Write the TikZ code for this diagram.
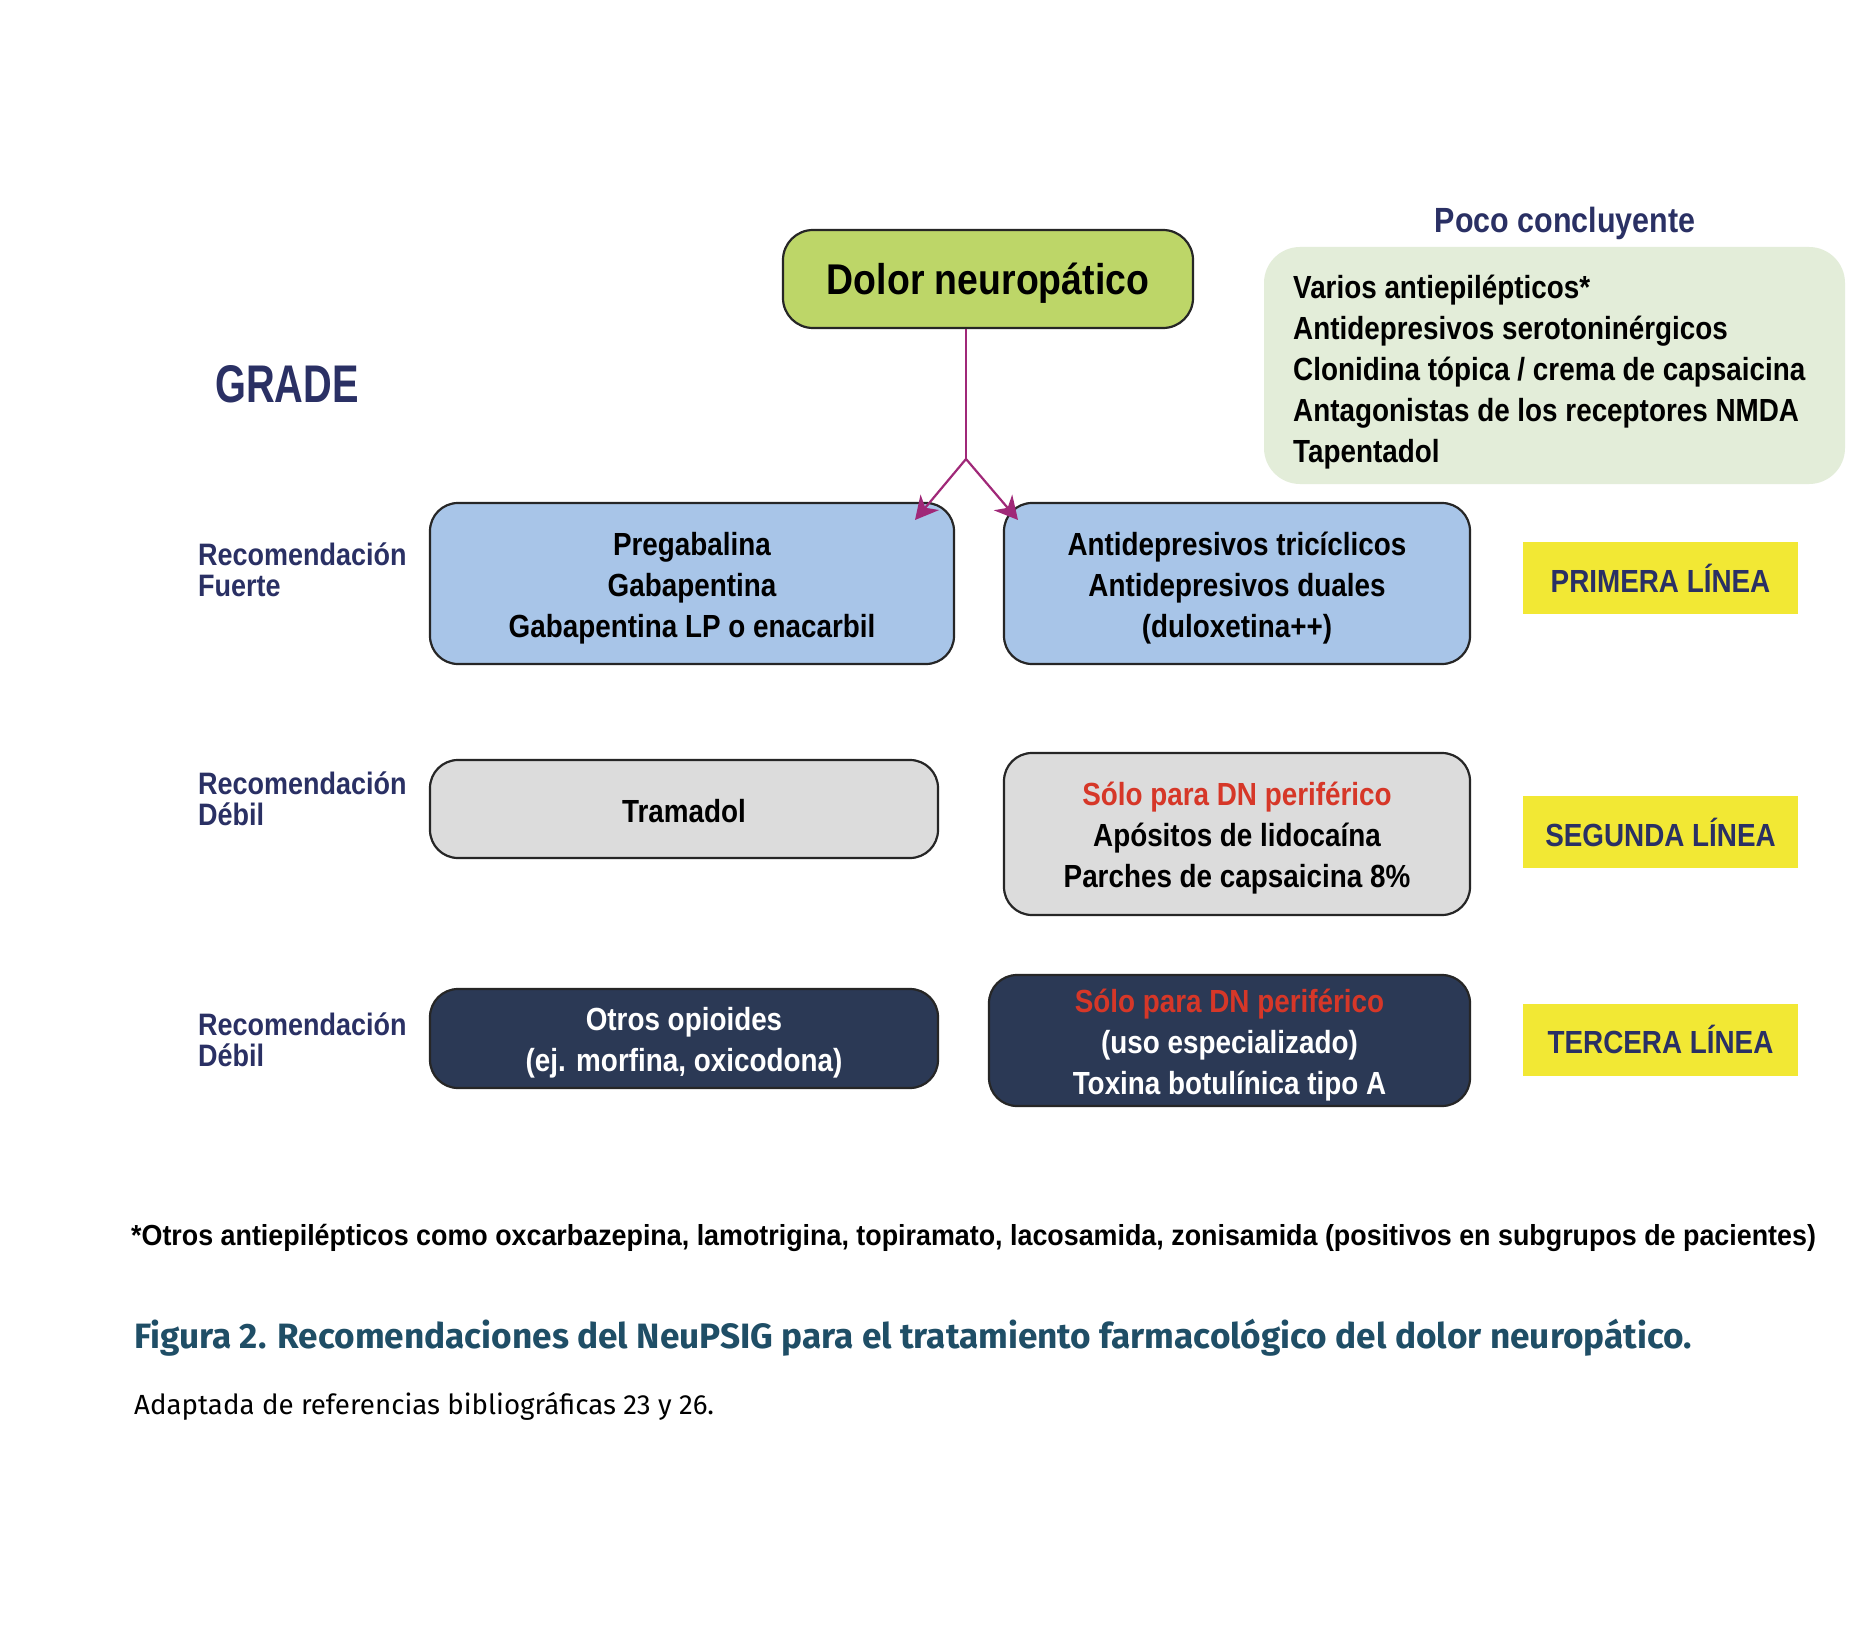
\documentclass[tikz,border=0pt]{standalone}
\usepackage{fontspec}
\usetikzlibrary{arrows.meta}
\newfontfamily\cf[FakeStretch=0.87]{Liberation Sans}
\newfontfamily\gf[FakeStretch=0.75]{Liberation Sans}
\newfontfamily\ff[FakeStretch=0.926]{Liberation Sans}
\newfontfamily\capf{Fira Sans}
\definecolor{navy}{RGB}{42,48,100}
\definecolor{topgreen}{RGB}{189,214,104}
\definecolor{lightgreen}{RGB}{227,237,217}
\definecolor{boxblue}{RGB}{168,197,232}
\definecolor{boxgray}{RGB}{220,220,220}
\definecolor{boxdark}{RGB}{43,57,85}
\definecolor{txtred}{RGB}{214,55,40}
\definecolor{labyellow}{RGB}{242,232,52}
\definecolor{arrowc}{RGB}{160,40,120}
\definecolor{capcol}{RGB}{31,78,102}
\begin{document}
\begin{tikzpicture}[x=1pt,y=-1pt,
  drug/.style={draw=black!85, line width=2.2pt, rounded corners=28pt, inner sep=0pt},
  boxtxt/.style={align=center, inner sep=0pt, font=\cf\bfseries\fontsize{32}{41}\selectfont},
  linelab/.style={fill=labyellow, inner sep=0pt, minimum width=275pt, minimum height=72pt,
    text=navy, font=\cf\bfseries\fontsize{32}{38}\selectfont},
  reclab/.style={anchor=west, align=left, inner sep=0pt, text=navy,
    font=\cf\bfseries\fontsize{31}{31}\selectfont},
  conn/.style={draw=arrowc, line width=2.2pt},
  tip/.style={-{Stealth[length=23pt,width=24pt,inset=7pt]}}
]
\useasboundingbox (0,0) rectangle (1869,1629);
\fill[white] (0,0) rectangle (1869,1629);

% title box
\node[drug, fill=topgreen, minimum width=410pt, minimum height=98pt, rounded corners=30pt] (dolor) at (988,279) {};
\node[boxtxt, font=\cf\bfseries\fontsize{43}{50}\selectfont] (dolorT) at ([yshift=-4pt]dolor.center) {Dolor neuropático};

% GRADE
\node[anchor=west, inner sep=0pt, text=navy, font=\gf\bfseries\fontsize{53}{60}\selectfont] (grade) at (215,384) {GRADE};

% Poco concluyente
\node[inner sep=0pt, text=navy, font=\cf\bfseries\fontsize{35}{40}\selectfont] (poco) at (1565,223) {Poco concluyente};
\node[fill=lightgreen, rounded corners=36pt, inner sep=0pt, minimum width=581pt, minimum height=237pt] (varios) at (1554.5,365.5) {};
\node[anchor=west, align=left, inner sep=0pt, font=\cf\bfseries\fontsize{32}{41}\selectfont] (variosT) at (1293,372)
  {Varios antiepilépticos*\\Antidepresivos serotoninérgicos\\Clonidina tópica / crema de capsaicina\\Antagonistas de los receptores NMDA\\Tapentadol};

% row 1
\node[reclab] (rec1) at (198,570) {Recomendación\\Fuerte};
\node[drug, fill=boxblue, minimum width=524pt, minimum height=161pt] (pregab) at (692,583.5) {};
\node[boxtxt] (pregabT) at ([yshift=-5pt]pregab.center)
  {Pregabalina\\Gabapentina\\Gabapentina LP o enacarbil};
\node[drug, fill=boxblue, minimum width=466pt, minimum height=161pt] (antidep) at (1237,583.5) {};
\node[boxtxt] (antidepT) at ([yshift=-5pt]antidep.center)
  {Antidepresivos tricíclicos\\Antidepresivos duales\\(duloxetina++)};
\node[linelab] (primera) at (1660.5,578) {PRIMERA LÍNEA};

% row 2
\node[reclab] (rec2) at (198,799) {Recomendación\\Débil};
\node[drug, fill=boxgray, minimum width=508pt, minimum height=98pt] (tramadol) at (684,809) {};
\node[boxtxt] (tramadolT) at ([yshift=-2pt]tramadol.center) {Tramadol};
\node[drug, fill=boxgray, minimum width=466pt, minimum height=162pt] (apositos) at (1237,834) {};
\node[boxtxt] (apositosT) at ([yshift=-4pt]apositos.center)
  {\textcolor{txtred}{Sólo para DN periférico}\\Apósitos de lidocaína\\Parches de capsaicina 8\%};
\node[linelab] (segunda) at (1660.5,832) {SEGUNDA LÍNEA};

% row 3
\node[reclab] (rec3) at (198,1040) {Recomendación\\Débil};
\node[drug, fill=boxdark, minimum width=508pt, minimum height=99pt] (opioides) at (684,1038.5) {};
\node[boxtxt, text=white] (opioidesT) at ([yshift=-4pt]opioides.center)
  {Otros opioides\\(ej. morfina, oxicodona)};
\node[drug, fill=boxdark, minimum width=481pt, minimum height=131pt] (toxina) at (1229.5,1040.5) {};
\node[boxtxt, text=white] (toxinaT) at ([yshift=-5pt]toxina.center)
  {\textcolor{txtred}{Sólo para DN periférico}\\(uso especializado)\\Toxina botulínica tipo A};
\node[linelab] (tercera) at (1660.5,1039.5) {TERCERA LÍNEA};

% connectors
\coordinate (split) at (966,459);
\coordinate (tipL) at (915,520);
\coordinate (tipR) at (1018,520);
\draw[conn] (split |- dolor.south) -- (split);
\draw[conn, tip] (split) -- (tipL);
\draw[conn, tip] (split) -- (tipR);

% footnote and caption
\node[anchor=base west, inner sep=0pt, font=\ff\bfseries\fontsize{29}{32}\selectfont] (foot) at (131,1245)
  {*Otros antiepilépticos como oxcarbazepina, lamotrigina, topiramato, lacosamida, zonisamida (positivos en subgrupos de pacientes)};
\node[anchor=base west, inner sep=0pt, text=capcol, font=\capf\bfseries\fontsize{35.2}{40}\selectfont] (caption) at (134,1348)
  {Figura 2. Recomendaciones del NeuPSIG para el tratamiento farmacológico del dolor neuropático.};
\node[anchor=base west, inner sep=0pt, font=\capf\fontsize{27.7}{32}\selectfont] (source) at (134,1414)
  {Adaptada de referencias bibliográficas 23 y 26.};
\end{tikzpicture}
\end{document}
